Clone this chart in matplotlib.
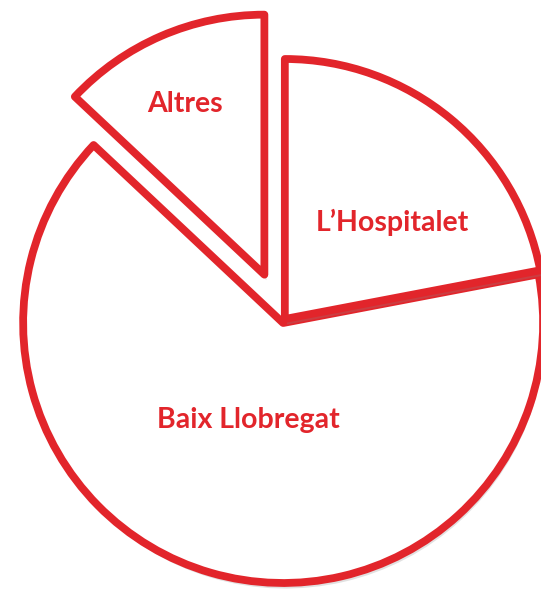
import matplotlib.pyplot as plt
import matplotlib.patheffects as pe

# slices, counter-clockwise from 12 o'clock
labels = ["Altres", "Baix Llobregat", "L\u2019Hospitalet"]
shares = [13, 65, 22]
explode = [0.19, 0.012, 0.005]

RED = "#E2252B"

fig = plt.figure(figsize=(5.41, 5.90), dpi=100)
ax = fig.add_axes([0, 0, 1, 1])

wedges, _ = ax.pie(
    shares,
    explode=explode,
    startangle=90,
    counterclock=True,
    wedgeprops=dict(facecolor="white", edgecolor=RED, linewidth=5.6,
                    joinstyle="round"),
)
for w in wedges:
    w.set_path_effects([
        pe.SimplePatchShadow(offset=(1.5, -4), shadow_rgbFace="#888888", alpha=0.25),
        pe.Normal(),
    ])

# label positions in pie units
label_pos = {
    "Altres": (-0.38, 0.83),
    "Baix Llobregat": (-0.138, -0.385),
    "L\u2019Hospitalet": (0.415, 0.377),
}
for name in labels:
    x, y = label_pos[name]
    ax.text(x, y, name, ha="center", va="center", color=RED,
            fontsize=20.5, fontweight="bold", family="Lato")

# 260 px per pie unit, centre at (284, 320) px from top-left
ax.set_aspect("auto")
ax.set_xlim(-284 / 260, (541 - 284) / 260)
ax.set_ylim(-(590 - 320) / 260, 320 / 260)
ax.axis("off")

fig.savefig("out.png", dpi=100)
